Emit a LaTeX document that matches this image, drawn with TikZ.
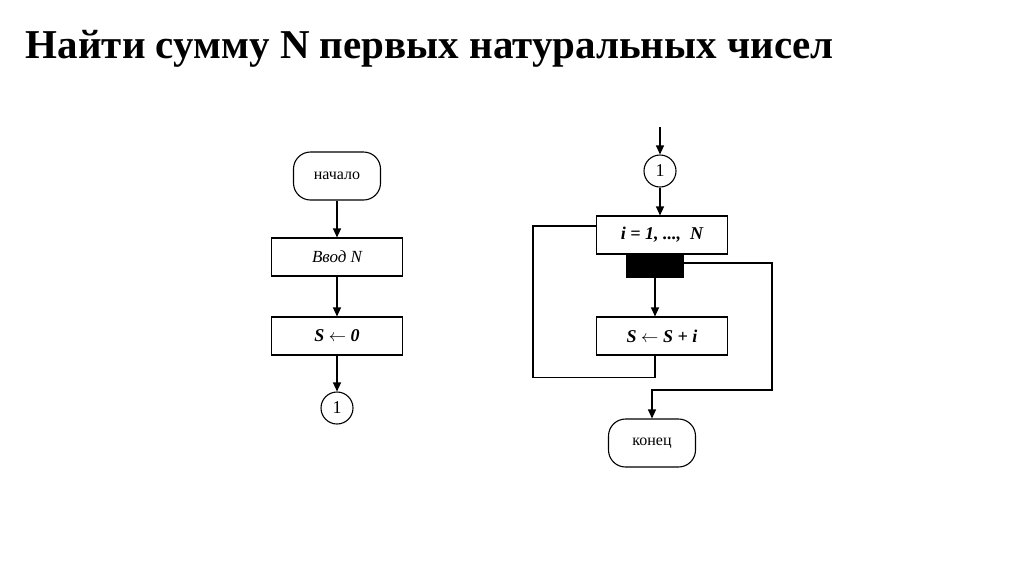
\documentclass[tikz,border=0pt]{standalone}
\usepackage{fontspec}
\setmainfont{Liberation Serif}
\usetikzlibrary{arrows.meta}
\begin{document}
\begin{tikzpicture}[x=1pt,y=-1pt,
  line width=1.1pt,
  arr/.style={-{Triangle[length=9pt,width=8pt]}},
  term/.style={draw,rounded corners=17pt,minimum width=87pt,minimum height=48pt,font=\fontsize{16}{18}\selectfont},
  boxx/.style={draw,minimum width=131pt,minimum height=38pt,font=\fontsize{17}{19}\selectfont\itshape},
  bb/.style={boxx,font=\fontsize{18}{20}\selectfont\bfseries\itshape},
  conn/.style={draw,circle,minimum size=32pt,inner sep=0pt,font=\fontsize{18}{20}\selectfont}]
\useasboundingbox (0,0) rectangle (1024,574);
\node[anchor=base west,font=\fontsize{41}{44}\selectfont\bfseries] (title) at (22,58) {Найти сумму N первых натуральных чисел};
% left
\node[term] (start) at (337,176) {начало};
\node[boxx] (in) at (337,257) {Ввод \textit{N}};
\node[bb] (s0) at (337,336) {S $\leftarrow$ 0};
\node[conn] (c1) at (337,408) {1};
\draw[arr] (start) -- (in);
\draw[arr] (in) -- (s0);
\draw[arr] (s0) -- (c1);
% right
\coordinate (topin) at (660,127);
\node[conn] (c2) at (660,171) {1};
\node[bb] (loop) at (662,235) {i = 1, ...,\ \ N};
\node[draw,fill=black,minimum width=56pt,minimum height=23pt,inner sep=0pt,anchor=north] (blk) at (655,254) {};
\node[bb] (sum) at (662,336) {S $\leftarrow$ S + i};
\node[term] (end) at (652,443) {конец};
\draw[arr] (topin) -- (c2);
\draw[arr] (c2) -- (c2|-loop.north);
\draw[arr] (blk) -- (blk|-sum.north);
\draw (sum.south-|blk) -- ++(0,22) -| (533,226) -- (loop.west|-0,226);
\draw[arr] (blk.east|-0,263) -- (772,263) -- (772,390) -| (end.north);
\end{tikzpicture}
\end{document}
